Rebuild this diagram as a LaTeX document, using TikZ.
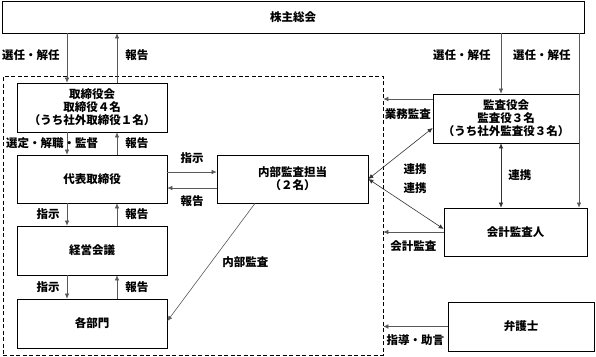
\documentclass[tikz,border=0pt]{standalone}
\usepackage{fontspec}
\setmainfont{Noto Sans CJK JP}
\usetikzlibrary{arrows.meta, calc}

\tikzset{
  box/.style={draw, line width=0.7pt, align=center, inner sep=0pt, font=\fontsize{11.5}{13}\selectfont\bfseries},
  lbl/.style={inner sep=1pt, font=\fontsize{11.5}{13}\selectfont\bfseries},
  arr/.style={draw=black!65, line width=0.6pt, -{Latex[length=5pt,width=4.5pt]}},
  arrr/.style={draw=black!80, line width=0.6pt, {Latex[length=5pt,width=4.5pt]}-{Latex[length=5pt,width=4.5pt]}},
}

\begin{document}
\begin{tikzpicture}[x=1pt, y=-1pt]
	\useasboundingbox (0,0) rectangle (596,356);

	% 株主総会と社内の範囲（破線）
	\node[box, minimum width=582, minimum height=32] (soukai) at (293,17) {株主総会};
	\node[draw, dash pattern=on 4pt off 2.5pt, line width=0.6pt, inner sep=0pt,
	      minimum width=380, minimum height=279] (inside) at (193,215.5) {};

	% 左の列
	\node[box, minimum width=150, minimum height=49] (board) at (92,107.5) {取締役会\\取締役４名\\（うち社外取締役１名）};
	\node[box, minimum width=150, minimum height=48] (ceo) at (92,179) {代表取締役};
	\node[box, minimum width=150, minimum height=49] (mgmt) at (92,250.5) {経営会議};
	\node[box, minimum width=150, minimum height=49] (depts) at (92,323.5) {各部門};
	\node[box, minimum width=151, minimum height=48] (internal) at (292.5,179) {内部監査担当\\（２名）};

	% 右の列
	\node[box, minimum width=146, minimum height=49] (auditors) at (506,118.5) {監査役会\\監査役３名\\（うち社外監査役３名）};
	\node[box, minimum width=143, minimum height=48] (accountant) at (515.5,232) {会計監査人};
	\node[box, minimum width=146, minimum height=49] (lawyer) at (521,326.5) {弁護士};

	% 株主総会 <-> 取締役会
	\draw[arr] ($(soukai.south -| board.north)+(-25,0)$) -- node[lbl, pos=.44, left=6pt] {選任・解任} ($(board.north)+(-25,0)$);
	\draw[arr] ($(board.north)+(25,0)$) -- node[lbl, pos=.56, right=7pt] {報告} ($(soukai.south -| board.north)+(25,0)$);

	% 縦の指示・報告
	\draw[arr] ($(board.south)+(-25,0)$) -- node[lbl, xshift=-15pt] {選定・解職・監督} ($(ceo.north)+(-25,0)$);
	\draw[arr] ($(ceo.north)+(25,0)$) -- node[lbl, right=7pt] {報告} ($(board.south)+(25,0)$);
	\draw[arr] ($(ceo.south)+(-25,0)$) -- node[lbl, left=6pt] {指示} ($(mgmt.north)+(-25,0)$);
	\draw[arr] ($(mgmt.north)+(25,0)$) -- node[lbl, right=7pt] {報告} ($(ceo.south)+(25,0)$);
	\draw[arr] ($(mgmt.south)+(-25,0)$) -- node[lbl, left=6pt] {指示} ($(depts.north)+(-25,0)$);
	\draw[arr] ($(depts.north)+(25,0)$) -- node[lbl, right=7pt] {報告} ($(mgmt.south)+(25,0)$);

	% 代表取締役 <-> 内部監査担当
	\draw[arr] ($(ceo.east)+(0,-7)$) -- node[lbl, above=7pt] {指示} ($(internal.west)+(0,-7)$);
	\draw[arr] ($(internal.west)+(0,9)$) -- node[lbl, below=6pt] {報告} ($(ceo.east)+(0,9)$);
	\draw[arr] ($(internal.south)+(-37.5,0)$) -- node[lbl, right=10pt] {内部監査} ($(depts.east)+(0,-2.5)$);

	% 株主総会 -> 監査役会・会計監査人
	\coordinate (a1) at ($(auditors.north)+(-5,0)$);
	\coordinate (c1) at ($(accountant.north)+(63.5,0)$);
	\draw[arr] (soukai.south -| a1) -- node[lbl, pos=.36, left=9pt] {選任・解任} (a1);
	\draw[arr] (soukai.south -| c1) -- node[lbl, pos=.126, left=7pt] {選任・解任} (c1);

	% 連携
	\draw[arrr] (auditors.south -| a1) -- node[lbl, right=6pt] {連携} (accountant.north -| a1);
	\draw[arrr] (internal.east) -- ($(auditors.west)+(0,9.5)$);
	\draw[arrr] (internal.east) -- ($(accountant.west)+(0,-3)$);
	\node[lbl] (link1) at (415,169) {連携};
	\node[lbl] (link2) at (415,188) {連携};

	% 社外からの監査・助言
	\draw[arr] ($(auditors.west)+(0,-19.5)$) -- node[lbl, below=8pt] {業務監査} ($(auditors.west -| inside.east)+(0,-19.5)$);
	\draw[arr] (accountant.west) -- node[lbl, below=7pt] {会計監査} (accountant.west -| inside.east);
	\draw[arr] (lawyer.west) -- node[lbl, below=7pt] {指導・助言} (lawyer.west -| inside.east);
\end{tikzpicture}
\end{document}
